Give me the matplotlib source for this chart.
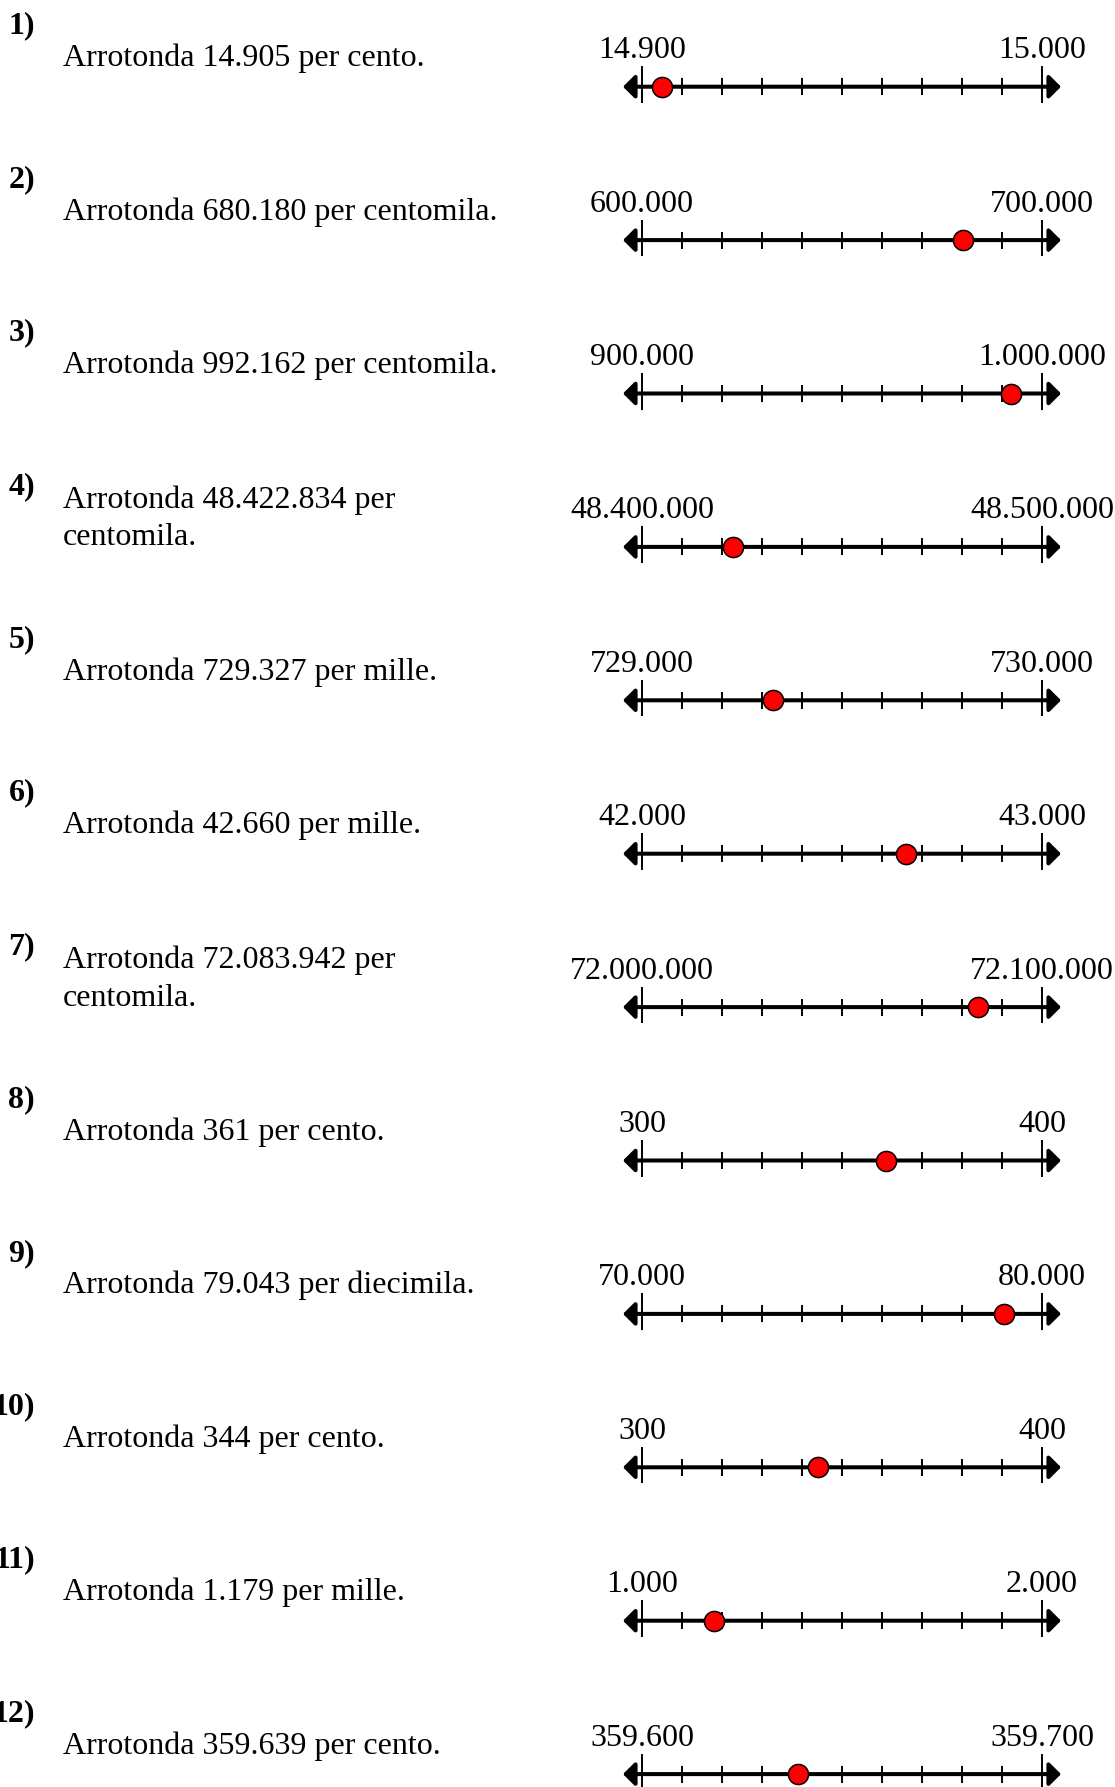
import textwrap
import numpy as np
import matplotlib
matplotlib.use("Agg")
import matplotlib.pyplot as plt

plt.rcParams['font.family'] = ['Liberation Serif', 'DejaVu Serif']

# values to round, the bounds of each number line, and the rounding unit
values = [14905, 680180, 992162, 48422834, 729327, 42660, 72083942, 361, 79043, 344, 1179, 359639]
lows = [14900, 600000, 900000, 48400000, 729000, 42000, 72000000, 300, 70000, 300, 1000, 359600]
highs = [15000, 700000, 1000000, 48500000, 730000, 43000, 72100000, 400, 80000, 400, 2000, 359700]
units = ['cento', 'centomila', 'centomila', 'centomila', 'mille', 'mille',
         'centomila', 'cento', 'diecimila', 'cento', 'mille', 'cento']


def fmt(n):
    return f"{n:,}".replace(",", ".")


W, H = 1115, 1787
fig = plt.figure(figsize=(W / 100, H / 100), dpi=100)

# background axes in pixel coordinates for the question text
bg = fig.add_axes([0, 0, 1, 1])
bg.set_xlim(0, W)
bg.set_ylim(H, 0)
bg.axis('off')

row_h = 153.4
line0 = 86.7
fs = 23

for i, (v, lo, hi, u) in enumerate(zip(values, lows, highs, units)):
    ly = line0 + i * row_h

    bg.text(35, ly - 53, f"{i + 1})", ha='right', va='baseline',
            fontsize=fs, fontweight='bold')
    q = textwrap.fill(f"Arrotonda {fmt(v)} per {u}.", width=33)
    nl = q.count("\n")
    # baseline alignment uses the last line here
    bg.text(63, ly - 20.5 + nl * 19, q, ha='left', va='baseline',
            fontsize=fs, linespacing=1.4)

    # number line axes: lo..hi spans 642..1042 px
    left, right = 612, 1072
    top, bottom = ly - 55, ly + 25
    ax = fig.add_axes([left / W, 1 - bottom / H, (right - left) / W, (bottom - top) / H])
    span = hi - lo
    ax.set_xlim(lo - 30 * span / 400, lo + 430 * span / 400)
    ax.set_ylim(-25, 55)
    ax.axis('off')

    pad = 19 * span / 400
    ax.annotate('', xy=(hi + pad, 0), xytext=(lo - pad, 0),
                arrowprops=dict(arrowstyle='<|-|>,head_length=0.7,head_width=0.7',
                                mutation_scale=10, lw=2.9, color='black',
                                shrinkA=0, shrinkB=0))
    ax.vlines([lo, hi], -16, 20.5, color='black', lw=1.4)
    ticks = np.linspace(lo, hi, 11)[1:-1]
    ax.vlines(ticks, -8.5, 8.5, color='black', lw=1.4)
    ax.plot([v], [0], 'o', ms=14.5, mfc='#ff0000', mec='black', mew=1.1, zorder=5)

    ax.text(lo, 28.5, fmt(lo), ha='center', va='baseline', fontsize=fs, clip_on=False)
    ax.text(hi, 28.5, fmt(hi), ha='center', va='baseline', fontsize=fs, clip_on=False)

fig.savefig("out.png", dpi=100)
